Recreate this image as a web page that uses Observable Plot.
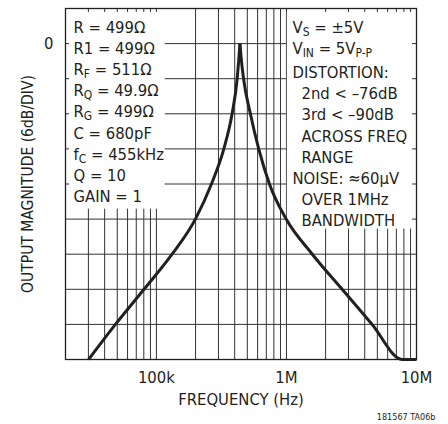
<!DOCTYPE html>
<html><head><meta charset="utf-8">
<script src="https://cdn.jsdelivr.net/npm/d3@7"></script>
<script src="https://cdn.jsdelivr.net/npm/@observablehq/plot@0.6"></script>
<style>html,body{margin:0;padding:0;background:#fff} svg{display:block}</style>
</head><body><div id="chart"></div>
<script>
// Frequency response: left branch up to the peak, right branch from the peak
const leftFreqHz = [30100, 48400, 80300, 132000, 199500, 265000, 330000, 382000, 418000, 429000, 439000];
const leftMagDb  = [-54, -48, -42, -36, -30, -24, -18, -12, -6, -3, 0];
const rightFreqHz = [439000, 451000, 468000, 528000, 612000, 740000, 995000, 1580000, 2680000, 4560000, 7760000, 10000000];
const rightMagDb  = [0, -3, -6, -12, -18, -24, -30, -36, -42, -48, -54, -54];

const xGridHz = [20e3,30e3,40e3,50e3,60e3,70e3,80e3,90e3,
                 100e3,200e3,300e3,400e3,500e3,600e3,700e3,800e3,900e3,
                 1e6,2e6,3e6,4e6,5e6,6e6,7e6,8e6,9e6,10e6];
const yGridDb = [-54,-48,-42,-36,-30,-24,-18,-12,-6,0,6];
const xTickHz = [1e5, 1e6, 1e7];
const xTickLabels = ["100k", "1M", "10M"];
const yTickDb = [0];
const yTickLabels = ["0"];

const leftNotes = ["R = 499Ω", "R1 = 499Ω", "R_{F} = 511Ω", "R_{Q} = 49.9Ω", "R_{G} = 499Ω", "C = 680pF", "f_{C} = 455kHz", "Q = 10", "GAIN = 1"];
const rightNotes = ["V_{S} = ±5V", "V_{IN} = 5V_{P-P}", "DISTORTION:", ">2nd < –76dB", ">3rd < –90dB", ">ACROSS FREQ", ">RANGE", "NOISE: ≈60µV", ">OVER 1MHz", ">BANDWIDTH"];

const xTitle = "FREQUENCY (Hz)";
const yTitle = "OUTPUT MAGNITUDE (6dB/DIV)";
const footnote = "181567 TA06b";

const FONT = "'Liberation Sans Narrow','Arial Narrow','DejaVu Sans Condensed','Liberation Sans',sans-serif";
const INK = "#231f20";
const FS = 16.5;
const data = [
  ...leftFreqHz.map((f, i) => ({f, db: leftMagDb[i], branch: "left"})),
  ...rightFreqHz.map((f, i) => ({f, db: rightMagDb[i], branch: "right"}))
];

const chart = Plot.plot({
  width: 448, height: 424,
  marginLeft: 65, marginRight: 32, marginTop: 8, marginBottom: 65,
  style: {fontFamily: FONT, fontSize: FS + "px", color: INK, background: "#fff", overflow: "visible"},
  x: {type: "log", domain: [20000, 1e7], label: null},
  y: {domain: [-54, 6], label: null},
  marks: [
    Plot.ruleX(xGridHz, {stroke: "#333", strokeWidth: 1}),
    Plot.ruleY(yGridDb, {stroke: "#333", strokeWidth: 1}),
    Plot.rect([0], {x1: 20000, x2: 117000, y1: -28.3, y2: 6, fill: "white", insetLeft: 4, insetTop: 4}),
    Plot.rect([0], {x1: 1016000, x2: 1e7, y1: -31.7, y2: 6, fill: "white", insetRight: 4, insetTop: 4}),
    Plot.line(data, {x: "f", y: "db", z: "branch", curve: "monotone-x", stroke: INK, strokeWidth: 3, strokeLinejoin: "miter", strokeLinecap: "butt"}),
    Plot.frame({stroke: INK, strokeWidth: 1.3}),
    Plot.axisX(xTickHz, {tickSize: 0, tickPadding: 12, fontSize: FS, label: null, tickFormat: d => xTickLabels[xTickHz.indexOf(d)]}),
    Plot.axisY(yTickDb, {tickSize: 0, tickPadding: 12, fontSize: FS, label: null, tickFormat: d => yTickLabels[yTickDb.indexOf(d)]}),
    Plot.text([leftNotes.join("\n")], {text: d => d, frameAnchor: "top-left", dx: 8, dy: 9, textAnchor: "start", lineAnchor: "top", lineHeight: 21.2 / FS, fontSize: FS, fill: INK}),
    Plot.text([rightNotes.join("\n")], {text: d => d, frameAnchor: "top-right", dx: -124, dy: 9, textAnchor: "start", lineAnchor: "top", lineHeight: 21.2 / FS, fontSize: FS, fill: INK}),
    Plot.text([xTitle], {text: d => d, frameAnchor: "bottom", dy: 45, fontSize: FS, fill: INK}),
    Plot.text([yTitle], {text: d => d, frameAnchor: "left", dx: -37, rotate: -90, textAnchor: "middle", fontSize: 15.5, fill: INK}),
    Plot.text([footnote], {text: d => d, frameAnchor: "bottom-right", dx: 19, dy: 60, textAnchor: "end", fontSize: 9, fill: INK})
  ]
});
document.getElementById("chart").appendChild(chart);

// Subscripts and indents in note text
const SVGNS = "http://www.w3.org/2000/svg";
function rebuild(el) {
  let s = el.textContent;
  if (!/_\{|^>/.test(s)) return;
  let indent = false;
  if (s.startsWith(">")) { indent = true; s = s.slice(1); }
  while (el.firstChild) el.removeChild(el.firstChild);
  const parts = s.split(/(_\{[^}]*\})/).filter(p => p.length);
  let prevSub = false, first = true;
  for (const p of parts) {
    const t = document.createElementNS(SVGNS, "tspan");
    const isSub = p.startsWith("_{");
    t.textContent = isSub ? p.slice(2, -1) : p;
    let dy = 0;
    if (isSub) { t.setAttribute("font-size", "12"); dy = 3; }
    else if (prevSub) dy = -3;
    if (dy) t.setAttribute("dy", dy);
    if (first && indent) t.setAttribute("dx", "9");
    el.appendChild(t);
    prevSub = isSub; first = false;
  }
}
chart.querySelectorAll("text").forEach(txt => {
  const spans = txt.querySelectorAll(":scope > tspan");
  if (spans.length) spans.forEach(rebuild); else rebuild(txt);
});
</script>
</body></html>
